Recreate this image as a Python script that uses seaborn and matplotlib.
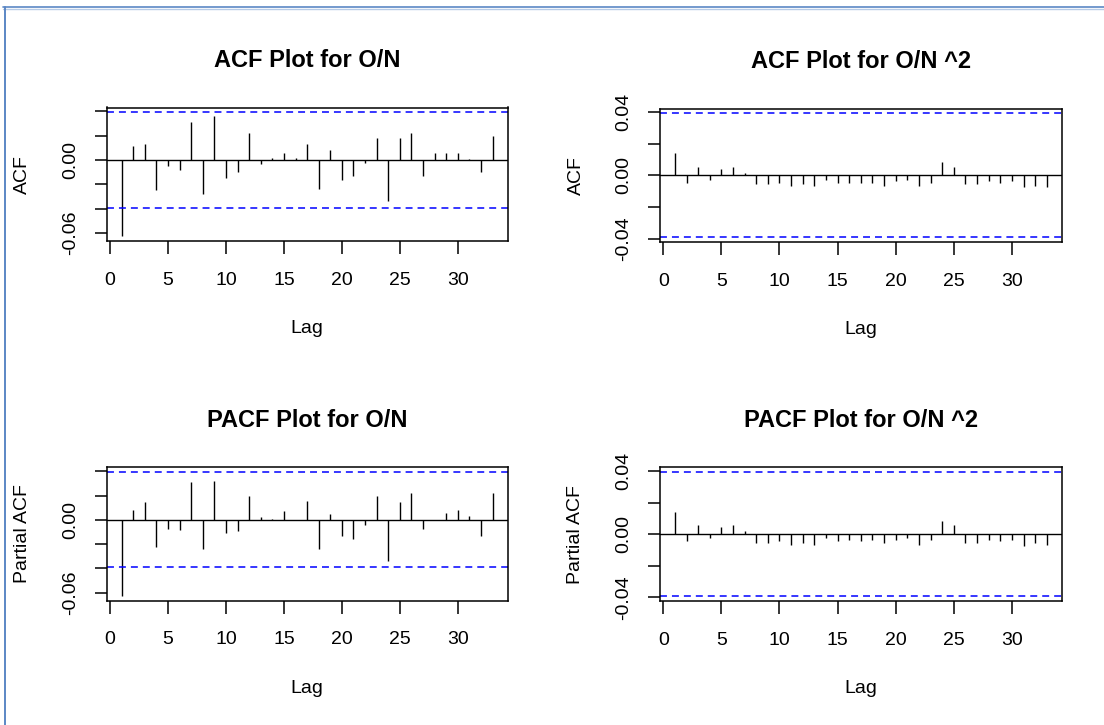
import matplotlib
matplotlib.use("Agg")
import matplotlib.pyplot as plt
import seaborn as sns
import numpy as np
import pandas as pd
from matplotlib.lines import Line2D

# values (lags 1..33)
lags = list(range(1, 34))
acf_on = [-0.0625, 0.0118, 0.0132, -0.0248, -0.0047, -0.0083, 0.0311, -0.0275, 0.0361, -0.0149,
          -0.0096, 0.0220, -0.0033, 0.0014, 0.0055, 0.0014, 0.0129, -0.0237, 0.0080, -0.0160,
          -0.0135, -0.0022, 0.0179, -0.0338, 0.0179, 0.0220, -0.0135, 0.0055, 0.0055, 0.0055,
          0.0005, -0.0096, 0.0195]
acf_on2 = [0.0143, -0.0047, 0.0053, -0.0028, 0.0043, 0.0053, 0.0015, -0.0055, -0.0057, -0.0045,
           -0.0066, -0.0055, -0.0066, -0.0028, -0.0047, -0.0047, -0.0047, -0.0047, -0.0066, -0.0036,
           -0.0028, -0.0066, -0.0047, 0.0083, 0.0053, -0.0055, -0.0057, -0.0036, -0.0047, -0.0036,
           -0.0074, -0.0066, -0.0074]
pacf_on = [-0.0627, 0.0083, 0.0146, -0.0223, -0.0072, -0.0085, 0.0308, -0.0237, 0.0322, -0.0110,
           -0.0096, 0.0193, 0.0019, 0.0003, 0.0069, -0.0002, 0.0157, -0.0237, 0.0044, -0.0135,
           -0.0162, -0.0047, 0.0193, -0.0336, 0.0143, 0.0220, -0.0072, 0.0002, 0.0055, 0.0083,
           0.0028, -0.0135, 0.0220]
pacf_on2 = [0.0143, -0.0045, 0.0055, -0.0026, 0.0045, 0.0055, 0.0017, -0.0055, -0.0055, -0.0045,
            -0.0066, -0.0055, -0.0066, -0.0026, -0.0045, -0.0036, -0.0045, -0.0036, -0.0055, -0.0036,
            -0.0026, -0.0066, -0.0036, 0.0085, 0.0055, -0.0055, -0.0055, -0.0036, -0.0045, -0.0036,
            -0.0074, -0.0055, -0.0066]
conf_limit = 0.0392

x_ticks = [0, 5, 10, 15, 20, 25, 30]
y_ticks_on = [-0.06, -0.04, -0.02, 0.00, 0.02, 0.04]
y_labels_on = ["-0.06", "", "", "0.00", "", ""]
y_ticks_on2 = [-0.04, -0.02, 0.00, 0.02, 0.04]
y_labels_on2 = ["-0.04", "", "0.00", "", "0.04"]

titles = ["ACF Plot for O/N", "ACF Plot for O/N ^2", "PACF Plot for O/N", "PACF Plot for O/N ^2"]
ylabels = ["ACF", "ACF", "Partial ACF", "Partial ACF"]

sns.set_theme(style="ticks")
plt.rcParams['font.family'] = ['Liberation Sans', 'DejaVu Sans']
plt.rcParams['axes.unicode_minus'] = False
plt.rcParams['lines.scale_dashes'] = False

W, H = 1104, 725
fig = plt.figure(figsize=(W / 100, H / 100), dpi=100)
fig.patch.set_facecolor("white")

# plot boxes in pixels: left, top, right, bottom
boxes = [(106.7, 107.5, 507.5, 241.0), (660.0, 108.5, 1061.7, 242.3),
         (106.7, 467.3, 507.5, 600.8), (660.0, 467.3, 1061.7, 601.0)]
series = [acf_on, acf_on2, pacf_on, pacf_on2]
yt = [(y_ticks_on, y_labels_on), (y_ticks_on2, y_labels_on2),
      (y_ticks_on, y_labels_on), (y_ticks_on2, y_labels_on2)]

for i in range(4):
    l, t, r, b = boxes[i]
    ax = fig.add_axes([l / W, 1 - b / H, (r - l) / W, (b - t) / H])
    df = pd.DataFrame({"lag": lags, "value": series[i]})

    ax.vlines(df["lag"], 0, df["value"], color="black", lw=1.0)
    ax.axhline(0, color="black", lw=1.0)
    ax.axhline(conf_limit, color="#0000FF", lw=1.1, linestyle=(0, (5.0, 3.6)))
    ax.axhline(-conf_limit, color="#0000FF", lw=1.1, linestyle=(0, (5.0, 3.6)))

    # R style limits: range extended by 4%
    lo = min(df["value"].min(), -conf_limit)
    hi = max(df["value"].max(), conf_limit)
    pad = (hi - lo) * 0.04
    ax.set_ylim(lo - pad, hi + pad)
    xpad = (max(lags) - min(lags)) * 0.04
    ax.set_xlim(min(lags) - xpad, max(lags) + xpad)

    ax.set_xticks(x_ticks)
    ax.set_xticklabels([str(v) for v in x_ticks])
    ax.set_yticks(yt[i][0])
    ax.set_yticklabels(yt[i][1])

    for s in ax.spines.values():
        s.set_color("black")
        s.set_linewidth(1.1)
    ax.tick_params(axis="both", length=9, width=1.1, color="black",
                   labelsize=14, labelcolor="black", direction="out")
    ax.tick_params(axis="x", pad=13)
    ax.tick_params(axis="y", pad=17, labelrotation=90)
    for tl in ax.get_yticklabels():
        tl.set_verticalalignment("center")
        tl.set_horizontalalignment("center")

    ax.set_title(titles[i], fontsize=17, fontweight="bold", color="black", pad=29)
    ax.set_xlabel("Lag", fontsize=14, color="black")
    ax.set_ylabel(ylabels[i], fontsize=14, color="black")
    bw, bh = r - l, b - t
    ax.xaxis.set_label_coords(0.5, -87.3 / bh)
    ax.xaxis.label.set_verticalalignment("center")
    ax.yaxis.set_label_coords(-84.0 / bw, 0.5)
    ax.yaxis.label.set_verticalalignment("center")
    ax.grid(False)

# screenshot frame lines (top and left)
fig.add_artist(Line2D([3 / W, 1], [1 - 7 / H, 1 - 7 / H], color="#5b87c5", lw=1.2))
fig.add_artist(Line2D([3 / W, 1], [1 - 8.6 / H, 1 - 8.6 / H], color="#b7cbe6", lw=1.0))
fig.add_artist(Line2D([5 / W, 5 / W], [0, 1 - 7 / H], color="#5b87c5", lw=1.4))

fig.savefig("out.png", dpi=100)
